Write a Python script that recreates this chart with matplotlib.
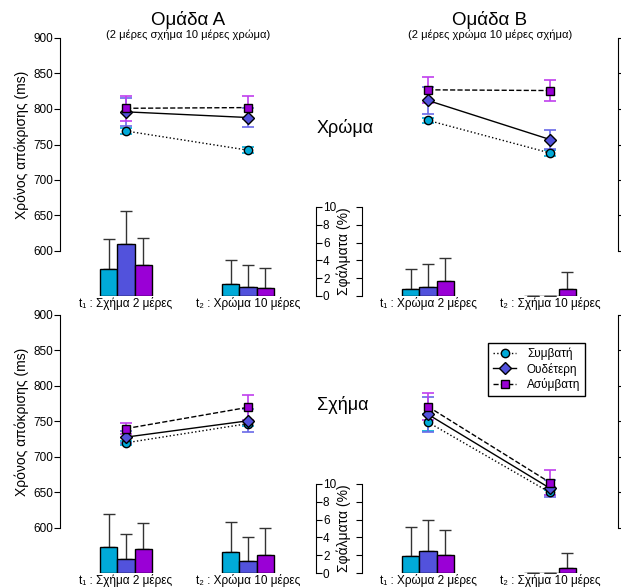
import numpy as np
import matplotlib.pyplot as plt

plt.rcParams['font.family'] = ['Liberation Sans', 'DejaVu Sans']

# Συνθήκες
conds = ['Συμβατή', 'Ουδέτερη', 'Ασύμβατη']
colors = ['#00aad8', '#5252dc', '#9a00d6']
errcolors = ['#00aad8', '#6a6ae8', '#c040ee']
markers = ['o', 'D', 's']
msizes = [6, 6, 5.5]
styles = [':', '-', '--']

groups = ['Ομάδα Α', 'Ομάδα Β']
subtitles = ['(2 μέρες σχήμα 10 μέρες χρώμα)', '(2 μέρες χρώμα 10 μέρες σχήμα)']
rows = ['Χρώμα', 'Σχήμα']
xlabels = [
    ['t₁ : Σχήμα 2 μέρες', 't₂ : Χρώμα 10 μέρες'],
    ['t₁ : Χρώμα 2 μέρες', 't₂ : Σχήμα 10 μέρες'],
]

# Χρόνος απόκρισης (ms) [γραμμή][ομάδα][συνθήκη] -> (t1, t2)
rt_mean = [
    [[[769, 742], [796, 788], [801, 802]],
     [[784, 738], [812, 757], [827, 826]]],
    [[[720, 747], [728, 751], [740, 770]],
     [[749, 650], [760, 656], [771, 664]]],
]
rt_err = [
    [[[4, 4], [20, 14], [18, 16]],
     [[4, 4], [19, 14], [18, 15]]],
    [[[3, 4], [8, 16], [8, 18]],
     [[12, 4], [25, 12], [19, 17]]],
]

# Σφάλματα (%)
err_mean = [
    [[[3.0, 1.3], [5.8, 1.05], [3.45, 0.95]],
     [[0.75, 0.0], [1.05, 0.0], [1.72, 0.75]]],
    [[[2.97, 2.4], [1.6, 1.3], [2.7, 2.0]],
     [[1.93, 0.0], [2.5, 0.0], [2.07, 0.6]]],
]
err_sd = [
    [[[3.4, 2.7], [3.8, 2.45], [3.05, 2.15]],
     [[2.32, 0.0], [2.51, 0.0], [2.58, 1.91]]],
    [[[3.63, 3.3], [2.8, 2.8], [2.9, 3.1]],
     [[3.27, 0.0], [3.4, 0.0], [2.73, 1.7]]],
]

W, H = 621, 587
fig = plt.figure(figsize=(W / 100, H / 100), dpi=100)


def px_axes(x0, y0, x1, y1):
    # pixel box (top-left origin) -> figure axes
    return fig.add_axes([x0 / W, 1 - y1 / H, (x1 - x0) / W, (y1 - y0) / H])


xs = np.array([1.0, 2.0])
xlim = (1 - 66 / 122, 2 + 68 / 122)
bw = 0.143
panel_x = [60, 362]
row_y = [0, 277]

for r in range(2):
    for g in range(2):
        x0 = panel_x[g]
        dy = row_y[r]
        # bars (errors)
        eax = px_axes(x0, 207 + dy, x0 + 256, 296 + dy)
        eax.patch.set_alpha(0)
        for c in range(3):
            eax.bar(xs + (c - 1) * bw, err_mean[r][g][c], width=bw, color=colors[c],
                    edgecolor='black', linewidth=1, zorder=2)
            eax.errorbar(xs + (c - 1) * bw, err_mean[r][g][c],
                         yerr=[np.zeros(2), err_sd[r][g][c]], fmt='none',
                         ecolor='#333333', elinewidth=1, capsize=4.3, zorder=1)
        eax.set_xlim(xlim)
        eax.set_ylim(0, 10)
        eax.set_xticks(xs)
        eax.set_xticklabels(xlabels[g], fontsize=8.5)
        eax.tick_params(axis='x', length=0, pad=0.5)
        eax.spines['top'].set_visible(False)
        eax.spines['bottom'].set_visible(False)
        eax.set_yticks(np.arange(0, 11, 2))
        if g == 0:
            eax.spines['left'].set_visible(False)
            eax.yaxis.tick_right()
            eax.tick_params(axis='y', direction='out', length=4, labelsize=8.5, pad=1)
            eax.yaxis.set_label_position('right')
            eax.set_ylabel('Σφάλματα (%)', fontsize=10, labelpad=0)
        else:
            eax.spines['right'].set_visible(False)
            eax.tick_params(axis='y', direction='out', length=4, labelleft=False)

        # response time
        ax = px_axes(x0, 38 + dy, x0 + 256, 251 + dy)
        ax.patch.set_alpha(0)
        for c in range(3):
            ax.errorbar(xs, rt_mean[r][g][c], yerr=rt_err[r][g][c], fmt='none',
                        ecolor=errcolors[c], elinewidth=1.2, capsize=4,
                        capthick=1.2, zorder=3 + c)
            ax.plot(xs, rt_mean[r][g][c], linestyle=styles[c], color='black',
                    linewidth=1, marker=markers[c], markersize=msizes[c],
                    markerfacecolor=colors[c], markeredgecolor='black',
                    markeredgewidth=1, label=conds[c], zorder=6 + c, clip_on=False)
        ax.set_xlim(xlim)
        ax.set_ylim(600, 900)
        ax.set_yticks(np.arange(600, 901, 50))
        ax.set_xticks([])
        ax.spines['top'].set_visible(False)
        ax.spines['bottom'].set_visible(False)
        if g == 0:
            ax.spines['right'].set_visible(False)
            ax.tick_params(axis='y', direction='out', length=4, labelsize=8.5, pad=1)
            ax.set_ylabel('Χρόνος απόκρισης (ms)', fontsize=10, labelpad=3)
        else:
            ax.spines['left'].set_visible(False)
            ax.yaxis.tick_right()
            ax.tick_params(axis='y', direction='out', length=4, labelright=False)
        if r == 1 and g == 1:
            ax.legend(loc='upper left', bbox_to_anchor=(488 / W, 1 - 343 / H),
                      bbox_transform=fig.transFigure, fontsize=8.5, handlelength=2.0,
                      handletextpad=0.9, borderaxespad=0, borderpad=0.4,
                      labelspacing=0.2, fancybox=False, edgecolor='black',
                      framealpha=1)
        if r == 0:
            fig.text((x0 + 128) / W, 1 - 20 / H, groups[g], fontsize=13.5,
                     ha='center', va='center')
            fig.text((x0 + 128) / W, 1 - 35 / H, subtitles[g], fontsize=8,
                     ha='center', va='center')

    fig.text(317 / W, 1 - (128 + row_y[r]) / H, rows[r], fontsize=13,
             ha='left', va='center')

fig.savefig('out.png', dpi=100)
